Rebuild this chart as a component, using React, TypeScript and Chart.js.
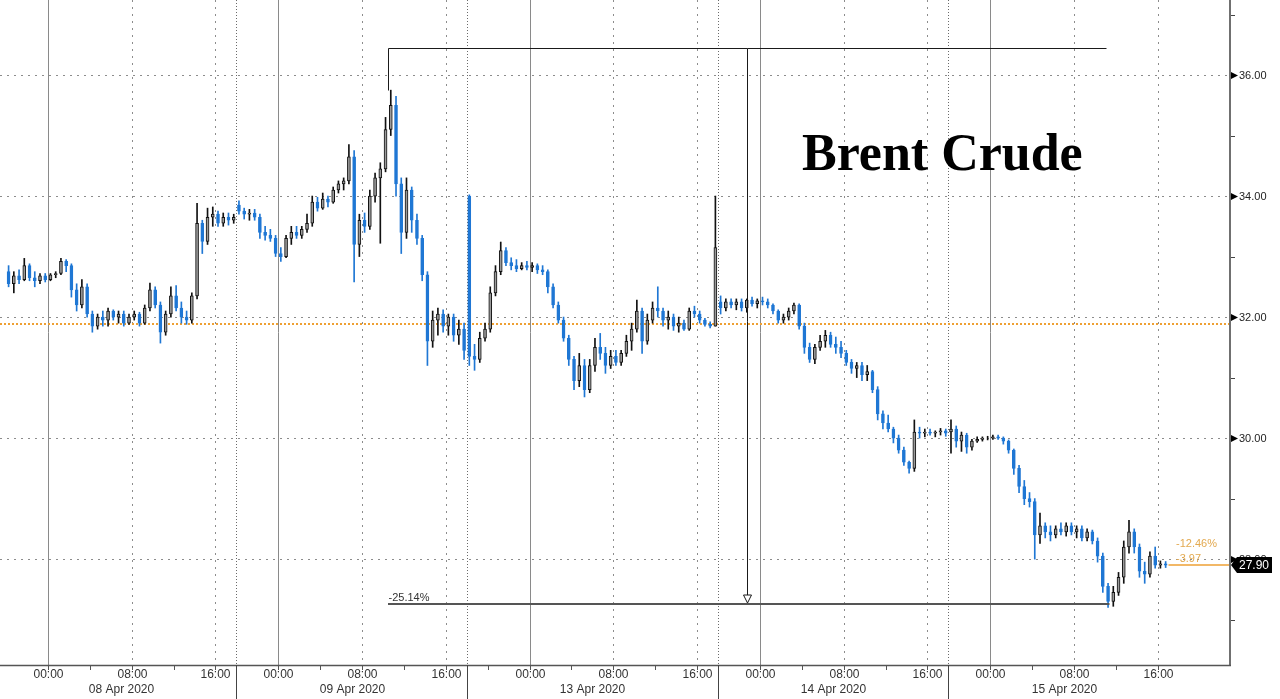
import React, { useEffect, useRef } from "react";
import { Chart, registerables } from "chart.js";

Chart.register(...registerables);

// ---- Brent Crude, 30-minute candles (trading-time axis, hours from 07 Apr 20:00) ----
const BAR_HOURS = 0.5;

const OPEN = [
  // 08 Apr
  32.75,32.55,32.68,32.62,32.85,32.65,32.60,32.68,32.62,32.70,
  32.72,32.92,32.85,32.45,32.20,32.50,32.05,31.85,32.00,31.95,
  32.10,32.00,32.05,31.90,32.00,32.05,31.90,32.15,32.45,32.20,
  31.75,32.05,32.35,32.15,32.00,31.95,32.35,33.55,33.25,33.65,
  33.70,33.55,33.65,33.60,
  // 09 Apr
  33.85,33.75,33.70,33.72,33.65,33.40,33.35,33.30,33.05,33.00,
  33.30,33.40,33.35,33.45,33.55,33.90,33.80,33.95,33.90,34.10,
  34.20,34.25,34.65,33.20,33.60,33.50,34.00,34.30,34.45,35.10,
  35.50,34.20,33.40,34.10,33.60,33.30,32.70,31.60,31.95,32.05,
  31.85,32.00,31.70,31.80,
  // 13 Apr
  34.00,31.35,31.30,31.65,31.80,32.40,32.75,33.10,32.90,32.85,
  32.80,32.85,32.82,32.85,32.78,32.75,32.50,32.20,31.95,31.65,
  31.30,30.95,31.20,30.80,31.20,31.50,31.40,31.20,31.35,31.25,
  31.40,31.60,31.80,32.10,31.60,31.95,32.15,32.10,31.95,32.00,
  31.85,31.90,31.80,32.10,32.05,31.95,31.88,31.85,
  // 14 Apr
  32.25,32.15,32.25,32.20,32.25,32.15,32.28,32.22,32.27,32.25,
  32.20,32.10,31.95,32.00,32.10,32.20,31.85,31.50,31.30,31.50,
  31.60,31.70,31.55,31.50,31.40,31.25,31.15,31.20,31.05,31.10,
  30.80,30.40,30.25,30.15,30.00,29.80,29.60,29.50,30.10,30.08,
  30.10,30.08,30.10,30.12,
  // 15 Apr
  30.10,30.15,29.95,30.05,29.85,29.95,29.98,30.00,30.00,30.02,
  30.00,29.95,29.80,29.50,29.20,29.00,28.95,28.40,28.55,28.45,
  28.40,28.50,28.45,28.55,28.45,28.50,28.35,28.45,28.30,28.05,
  27.55,27.30,27.45,27.70,28.20,28.45,28.20,27.80,27.75,28.05,
  27.90,27.92,
];

const HIGH = [
  // 08 Apr
  32.85,32.75,32.78,32.97,32.88,32.75,32.72,32.72,32.72,32.75,
  32.97,32.95,32.88,32.55,32.62,32.55,32.10,32.05,32.10,32.15,
  32.12,32.10,32.10,32.05,32.10,32.08,32.20,32.56,32.50,32.25,
  32.10,32.50,32.52,32.25,32.10,32.40,33.88,33.60,33.80,33.82,
  33.75,33.72,33.72,33.70,
  // 09 Apr
  33.92,33.80,33.78,33.78,33.70,33.50,33.45,33.35,33.15,33.35,
  33.50,33.50,33.50,33.70,34.00,33.98,34.05,34.00,34.15,34.25,
  34.30,34.85,34.75,33.70,33.72,34.10,34.38,34.55,35.30,35.75,
  35.65,34.30,34.30,34.15,33.70,33.35,32.75,32.10,32.15,32.12,
  32.05,32.05,31.95,31.90,
  // 13 Apr
  34.02,31.55,31.75,31.90,32.50,32.85,33.24,33.15,32.98,32.95,
  32.90,32.92,32.90,32.88,32.85,32.78,32.55,32.25,32.00,31.70,
  31.35,31.40,31.30,31.30,31.65,31.73,31.50,31.45,31.45,31.45,
  31.70,31.90,32.28,32.15,32.05,32.25,32.50,32.15,32.10,32.05,
  32.00,31.95,32.15,32.18,32.10,31.98,31.92,34.00,
  // 14 Apr
  32.35,32.30,32.30,32.30,32.30,32.30,32.33,32.30,32.33,32.30,
  32.22,32.12,32.05,32.15,32.23,32.22,31.90,31.57,31.55,31.70,
  31.78,31.75,31.67,31.60,31.45,31.30,31.25,31.25,31.20,31.12,
  30.85,30.45,30.38,30.18,30.05,29.85,29.62,30.30,30.18,30.15,
  30.15,30.12,30.16,30.15,
  // 15 Apr
  30.30,30.20,30.10,30.08,29.98,30.02,30.02,30.03,30.05,30.05,
  30.02,29.97,29.82,29.55,29.30,29.10,29.00,28.76,28.60,28.55,
  28.55,28.60,28.60,28.60,28.55,28.55,28.50,28.48,28.35,28.10,
  27.60,27.55,27.78,28.30,28.64,28.50,28.25,27.95,28.12,28.20,
  27.97,27.96,
];

const LOW = [
  // 08 Apr
  32.50,32.40,32.55,32.60,32.60,32.50,32.55,32.58,32.60,32.65,
  32.70,32.75,32.33,32.10,32.15,32.00,31.75,31.80,31.85,31.85,
  31.95,31.90,31.85,31.88,31.95,31.85,31.88,32.10,32.15,31.57,
  31.70,32.00,32.10,31.90,31.88,31.90,32.30,33.05,33.20,33.50,
  33.50,33.50,33.52,33.55,
  // 09 Apr
  33.70,33.62,33.60,33.60,33.30,33.27,33.25,33.00,32.92,32.98,
  33.20,33.30,33.30,33.40,33.50,33.75,33.78,33.82,33.88,34.05,
  34.10,34.20,32.58,33.00,33.40,33.45,33.90,33.22,34.40,35.00,
  34.00,33.05,33.30,33.40,33.20,32.60,31.20,31.50,31.70,31.75,
  31.70,31.60,31.55,31.30,
  // 13 Apr
  31.20,31.12,31.25,31.60,31.75,32.35,32.70,32.85,32.78,32.75,
  32.78,32.78,32.75,32.72,32.70,32.40,32.15,31.90,31.60,31.20,
  30.80,30.85,30.68,30.75,31.10,31.30,31.07,31.15,31.20,31.20,
  31.35,31.45,31.75,31.40,31.55,31.90,32.00,31.85,31.80,31.78,
  31.75,31.78,31.78,32.00,31.90,31.85,31.82,31.85,
  // 14 Apr
  32.05,32.10,32.15,32.12,32.10,32.08,32.18,32.15,32.20,32.15,
  32.05,31.90,31.90,31.95,32.05,31.80,31.40,31.25,31.23,31.45,
  31.50,31.50,31.40,31.33,31.20,31.07,31.00,30.95,30.95,30.75,
  30.30,30.15,30.10,29.92,29.75,29.55,29.42,29.45,30.00,30.02,
  30.05,30.02,30.05,30.03,
  // 15 Apr
  29.75,29.85,29.78,29.75,29.80,29.93,29.95,29.97,29.98,29.98,
  29.90,29.75,29.40,29.10,28.90,28.86,28.00,28.26,28.35,28.30,
  28.35,28.40,28.38,28.40,28.35,28.30,28.30,28.25,27.95,27.45,
  27.20,27.22,27.40,27.60,28.10,28.10,27.70,27.60,27.70,27.85,
  27.85,27.86,
];

const CLOSE = [
  // 08 Apr
  32.55,32.68,32.62,32.85,32.65,32.60,32.68,32.62,32.70,32.72,
  32.92,32.85,32.45,32.20,32.50,32.05,31.85,32.00,31.95,32.10,
  32.00,32.05,31.90,32.00,32.05,31.90,32.15,32.45,32.20,31.75,
  32.05,32.35,32.15,32.00,31.95,32.35,33.55,33.25,33.65,33.70,
  33.55,33.65,33.60,33.65,
  // 09 Apr
  33.75,33.70,33.72,33.65,33.40,33.35,33.30,33.05,33.00,33.30,
  33.40,33.35,33.45,33.55,33.90,33.80,33.95,33.90,34.10,34.20,
  34.25,34.65,33.20,33.60,33.50,34.00,34.30,34.45,35.10,35.50,
  34.20,33.40,34.10,33.60,33.30,32.70,31.60,31.95,32.05,31.85,
  32.00,31.70,31.80,31.45,
  // 13 Apr
  31.35,31.30,31.65,31.80,32.40,32.75,33.10,32.90,32.85,32.80,
  32.85,32.82,32.85,32.78,32.75,32.50,32.20,31.95,31.65,31.30,
  30.95,31.20,30.80,31.20,31.50,31.40,31.20,31.35,31.25,31.40,
  31.60,31.80,32.10,31.60,31.95,32.15,32.10,31.95,32.00,31.85,
  31.90,31.80,32.10,32.05,31.95,31.88,31.85,33.15,
  // 14 Apr
  32.15,32.25,32.20,32.25,32.15,32.28,32.22,32.27,32.25,32.20,
  32.10,31.95,32.00,32.10,32.20,31.85,31.50,31.30,31.50,31.60,
  31.70,31.55,31.50,31.40,31.25,31.15,31.20,31.05,31.10,30.80,
  30.40,30.25,30.15,30.00,29.80,29.60,29.50,30.10,30.08,30.10,
  30.08,30.10,30.12,30.08,
  // 15 Apr
  30.15,29.95,30.05,29.85,29.95,29.98,30.00,30.00,30.02,30.00,
  29.95,29.80,29.50,29.20,29.00,28.95,28.40,28.55,28.45,28.40,
  28.50,28.45,28.55,28.45,28.50,28.35,28.45,28.30,28.05,27.55,
  27.30,27.45,27.70,28.20,28.45,28.20,27.80,27.75,28.05,27.90,
  27.92,27.90,
];

// ---- axis ticks (trading hours) ----
const TIME_TICKS = [4, 12, 20, 26, 34, 42, 50, 58, 66, 72, 80, 88, 94, 102, 110];
const TIME_LABELS = ["00:00","08:00","16:00","00:00","08:00","16:00","00:00","08:00","16:00","00:00","08:00","16:00","00:00","08:00","16:00"];
const MIDNIGHTS = [4, 26, 50, 72, 94];
const DOTTED_TIMES = [12, 20, 34, 42, 58, 66, 80, 88, 102, 110];
const MINOR_TIME_TICKS = [8, 16, 30, 38, 46, 54, 62, 76, 84, 98, 106];
const SESSION_BREAKS = [22, 44, 68, 90];
const SESSION_MIDS = [11, 33, 56, 79, 101];
const DATE_LABELS = ["08 Apr 2020", "09 Apr 2020", "13 Apr 2020", "14 Apr 2020", "15 Apr 2020"];
const Y_TICKS = [28, 30, 32, 34, 36];
const Y_MINOR = [27, 29, 31, 33, 35, 37];

const X_MIN = -0.57, X_MAX = 116.8;
const Y_MIN = 26.25, Y_MAX = 37.24;

// ---- annotations ----
const TITLE = "Brent Crude";
const REF_LEVEL = 31.88;
const LAST_PRICE = 27.9;
const LAST_PCT = "-12.46%";
const LAST_CHG = "-3.97";
const ANN_FROM_T = 36.5, ANN_TO_T = 105.1, ANN_LOW_END_T = 105.3;
const ANN_HIGH = 36.45, ANN_LOW = 27.26, ANN_PEAK = 35.75;
const ANN_LABEL = "-25.14%";

const BLUE = "#1f77d4";
const ORANGE = "#eea034";

const decor = {
  id: "decor",
  beforeDatasetsDraw(chart: any) {
    const { ctx, chartArea: a, scales } = chart;
    const px = (t: number) => Math.round(scales.x.getPixelForValue(t)) + 0.5;
    const py = (v: number) => Math.round(scales.y.getPixelForValue(v)) + 0.5;
    ctx.save();
    ctx.lineWidth = 1;
    ctx.strokeStyle = "#8c8c8c";
    ctx.setLineDash([2, 5]);
    for (const v of Y_TICKS) {
      ctx.beginPath(); ctx.moveTo(a.left, py(v)); ctx.lineTo(a.right, py(v)); ctx.stroke();
    }
    for (const t of DOTTED_TIMES) {
      ctx.beginPath(); ctx.moveTo(px(t), a.top); ctx.lineTo(px(t), a.bottom); ctx.stroke();
    }
    ctx.strokeStyle = "#6a6a6a";
    ctx.setLineDash([1, 2]);
    for (const t of SESSION_BREAKS) {
      ctx.beginPath(); ctx.moveTo(px(t), a.top); ctx.lineTo(px(t), a.bottom); ctx.stroke();
    }
    ctx.setLineDash([]);
    ctx.strokeStyle = "#8a8a8a";
    for (const t of MIDNIGHTS) {
      ctx.beginPath(); ctx.moveTo(px(t), a.top); ctx.lineTo(px(t), a.bottom); ctx.stroke();
    }
    // orange reference level
    ctx.strokeStyle = ORANGE;
    ctx.lineWidth = 2;
    ctx.setLineDash([2, 2]);
    const yr = Math.round(scales.y.getPixelForValue(REF_LEVEL));
    ctx.beginPath(); ctx.moveTo(a.left, yr); ctx.lineTo(a.right, yr); ctx.stroke();
    ctx.restore();
  },
  afterDatasetsDraw(chart: any) {
    const { ctx, chartArea: a, scales } = chart;
    const px = (t: number) => Math.round(scales.x.getPixelForValue(t)) + 0.5;
    const py = (v: number) => Math.round(scales.y.getPixelForValue(v)) + 0.5;
    ctx.save();
    ctx.setLineDash([]);

    // title
    ctx.fillStyle = "#000";
    ctx.font = 'bold 52px "Liberation Serif", "Times New Roman", serif';
    ctx.textAlign = "left";
    ctx.textBaseline = "alphabetic";
    ctx.fillText(TITLE, 802, 170);

    // high-low annotation
    const xA = px(ANN_FROM_T), xB = px(ANN_TO_T);
    const xM = px((ANN_FROM_T + ANN_TO_T) / 2);
    const yH = py(ANN_HIGH), yL = Math.round(scales.y.getPixelForValue(ANN_LOW));
    ctx.strokeStyle = "#1a1a1a";
    ctx.lineWidth = 1;
    ctx.beginPath(); ctx.moveTo(xA, yH); ctx.lineTo(xB, yH); ctx.stroke();
    ctx.beginPath(); ctx.moveTo(xA, yH); ctx.lineTo(xA, py(ANN_PEAK)); ctx.stroke();
    ctx.strokeStyle = "#555";
    ctx.lineWidth = 2;
    ctx.beginPath(); ctx.moveTo(xA - 0.5, yL); ctx.lineTo(px(ANN_LOW_END_T), yL); ctx.stroke();
    ctx.strokeStyle = "#1a1a1a";
    ctx.lineWidth = 1;
    ctx.beginPath(); ctx.moveTo(xM, yH); ctx.lineTo(xM, yL - 9); ctx.stroke();
    ctx.beginPath();
    ctx.moveTo(xM - 4, yL - 9); ctx.lineTo(xM + 4, yL - 9); ctx.lineTo(xM, yL - 1); ctx.closePath();
    ctx.fillStyle = "#fff"; ctx.fill(); ctx.stroke();
    ctx.fillStyle = "#333";
    ctx.font = '11px "Liberation Sans", Arial, sans-serif';
    ctx.textBaseline = "alphabetic";
    ctx.fillText(ANN_LABEL, xA, yL - 3);

    // axes lines
    ctx.strokeStyle = "#707070";
    ctx.lineWidth = 2;
    ctx.beginPath(); ctx.moveTo(a.right + 1, 0); ctx.lineTo(a.right + 1, a.bottom + 1); ctx.stroke();
    ctx.strokeStyle = "#555";
    ctx.lineWidth = 1.5;
    ctx.beginPath(); ctx.moveTo(0, a.bottom + 0.5); ctx.lineTo(a.right + 2, a.bottom + 0.5); ctx.stroke();

    // x ticks & labels
    ctx.lineWidth = 1;
    ctx.strokeStyle = "#555";
    for (const t of [...TIME_TICKS, ...MINOR_TIME_TICKS]) {
      ctx.beginPath(); ctx.moveTo(px(t), a.bottom); ctx.lineTo(px(t), a.bottom + 5); ctx.stroke();
    }
    ctx.strokeStyle = "#444";
    for (const t of SESSION_BREAKS) {
      ctx.beginPath(); ctx.moveTo(px(t), a.bottom); ctx.lineTo(px(t), 699); ctx.stroke();
    }
    ctx.fillStyle = "#333";
    ctx.font = '12px "Liberation Sans", Arial, sans-serif';
    ctx.textAlign = "center";
    ctx.textBaseline = "middle";
    TIME_TICKS.forEach((t, i) => ctx.fillText(TIME_LABELS[i], px(t), a.bottom + 10));
    SESSION_MIDS.forEach((t, i) => ctx.fillText(DATE_LABELS[i], px(t), a.bottom + 25));

    // y ticks & labels
    ctx.textAlign = "left";
    ctx.font = '11px "Liberation Sans", Arial, sans-serif';
    ctx.fillStyle = "#222";
    ctx.strokeStyle = "#444";
    for (const v of Y_MINOR) {
      ctx.beginPath(); ctx.moveTo(a.right + 2, py(v)); ctx.lineTo(a.right + 6, py(v)); ctx.stroke();
    }
    for (const v of Y_TICKS) {
      const yy = py(v);
      ctx.beginPath();
      ctx.moveTo(a.right + 2, yy - 3.5); ctx.lineTo(a.right + 9, yy); ctx.lineTo(a.right + 2, yy + 3.5); ctx.closePath();
      ctx.fillStyle = "#000"; ctx.fill();
      ctx.fillStyle = "#222";
      ctx.fillText(v.toFixed(2), a.right + 10, yy);
    }

    // last price line + labels
    const lastX = px((CLOSE.length - 0.5) * BAR_HOURS) + 2;
    const yLast = Math.round(scales.y.getPixelForValue(LAST_PRICE));
    ctx.strokeStyle = ORANGE;
    ctx.lineWidth = 1.5;
    ctx.beginPath(); ctx.moveTo(lastX, yLast); ctx.lineTo(a.right, yLast); ctx.stroke();
    ctx.fillStyle = "#e3a94f";
    ctx.fillText(LAST_PCT, 1176, yLast - 21);
    ctx.fillText(LAST_CHG, 1176, yLast - 6);
    // price box
    ctx.fillStyle = "#000";
    ctx.beginPath();
    ctx.moveTo(a.right + 2, yLast);
    ctx.lineTo(a.right + 8, yLast - 8);
    ctx.lineTo(a.right + 43, yLast - 8);
    ctx.lineTo(a.right + 43, yLast + 8);
    ctx.lineTo(a.right + 8, yLast + 8);
    ctx.closePath();
    ctx.fill();
    ctx.fillStyle = "#fff";
    ctx.font = '12px "Liberation Sans", Arial, sans-serif';
    ctx.fillText(LAST_PRICE.toFixed(2), a.right + 10, yLast + 0.5);
    ctx.restore();
  },
};

export default function App() {
  const ref = useRef<HTMLCanvasElement>(null);
  useEffect(() => {
    const canvas = ref.current;
    if (!canvas) return;
    const xs = CLOSE.map((_, i) => (i + 0.5) * BAR_HOURS);
    const up = CLOSE.map((c, i) => c >= OPEN[i]);
    const bodies = xs.map((x, i) => ({ x, y: [Math.min(OPEN[i], CLOSE[i]), Math.max(OPEN[i], CLOSE[i])] }));
    const wicks = xs.map((x, i) => ({ x, y: [LOW[i], HIGH[i]] }));
    const chart = new Chart(canvas, {
      type: "bar",
      data: {
        datasets: [
          {
            label: "body",
            data: bodies as any,
            backgroundColor: up.map((u) => (u ? "#9a9a9a" : BLUE)),
            borderColor: up.map((u) => (u ? "#111111" : BLUE)),
            borderWidth: 1,
            borderSkipped: false,
            barThickness: 3,
            grouped: false,
          } as any,
          {
            label: "wick",
            data: wicks as any,
            backgroundColor: up.map((u) => (u ? "#111111" : BLUE)),
            borderWidth: 0,
            barThickness: 1,
            grouped: false,
          } as any,
        ],
      },
      options: {
        responsive: false,
        animation: false,
        events: [],
        layout: { padding: 0 },
        plugins: { legend: { display: false }, tooltip: { enabled: false }, title: { display: false } },
        scales: {
          x: {
            type: "linear",
            min: X_MIN,
            max: X_MAX,
            offset: false,
            grid: { display: false },
            border: { display: false },
            ticks: { display: false },
            afterFit: (s: any) => { s.height = 34; },
          },
          y: {
            type: "linear",
            position: "right",
            min: Y_MIN,
            max: Y_MAX,
            grid: { display: false },
            border: { display: false },
            ticks: { display: false },
            afterFit: (s: any) => { s.width = 51; },
          },
        },
      } as any,
      plugins: [decor],
    });
    return () => chart.destroy();
  }, []);
  return (
    <canvas
      ref={ref}
      width={1280}
      height={699}
      style={{ position: "fixed", left: 0, top: 0, display: "block", background: "#fff" }}
    />
  );
}
